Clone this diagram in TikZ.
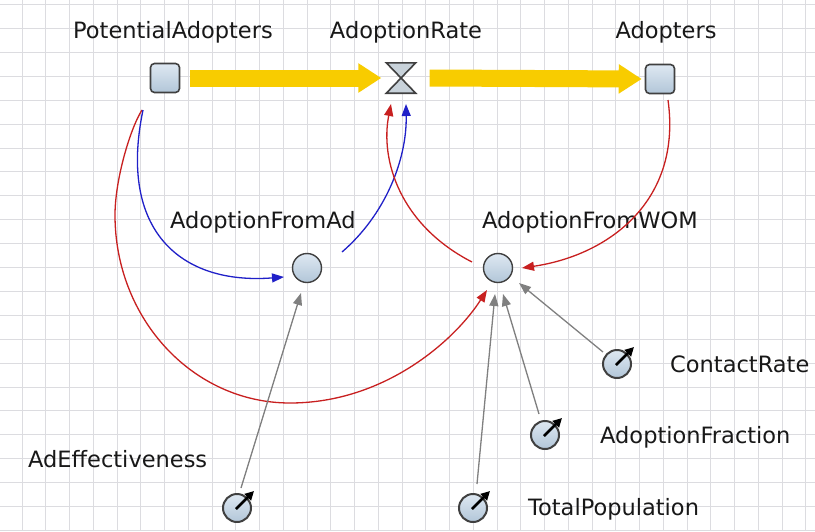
\documentclass[tikz,border=0pt]{standalone}
\usepackage{fontspec}
\setmainfont{DejaVu Sans}
\usetikzlibrary{arrows.meta,shapes.geometric}
\definecolor{gridc}{RGB}{220,220,224}
\definecolor{flowc}{RGB}{248,204,0}
\definecolor{redc}{RGB}{200,32,32}
\definecolor{bluec}{RGB}{32,32,200}
\definecolor{grayc}{RGB}{128,128,128}
\definecolor{edgec}{RGB}{64,64,64}
\definecolor{filltop}{RGB}{222,232,242}
\definecolor{fillbot}{RGB}{178,198,216}
\definecolor{txtc}{RGB}{24,24,24}
\definecolor{valvec}{RGB}{200,210,218}
\tikzset{
  lbl/.style={inner sep=0pt, font=\fontsize{22.5}{26}\selectfont, text=txtc},
  stockbox/.style={draw=edgec, line width=1.6pt, rounded corners=4pt, minimum size=29pt, inner sep=0pt, top color=filltop, bottom color=fillbot},
  auxnode/.style={circle, draw=edgec, line width=1.4pt, minimum size=29pt, inner sep=0pt, top color=filltop, bottom color=fillbot},
  parnode/.style={circle, draw=edgec, line width=2pt, minimum size=28pt, inner sep=0pt, top color=filltop, bottom color=fillbot},
  valvebox/.style={minimum width=29pt, minimum height=30pt, inner sep=0pt},
  valveshape/.style={draw=edgec, line width=1.6pt, fill=valvec, line join=miter},
  flowarrow/.style={draw=flowc, line width=17pt, -{Triangle[length=23pt,width=28pt]}},
  needle/.style={draw=black, line width=2.6pt, -{Triangle[length=9pt,width=9pt]}},
  redlink/.style={draw=redc, line width=1.3pt, -{Triangle[length=12pt,width=9pt]}},
  bluelink/.style={draw=bluec, line width=1.3pt, -{Triangle[length=12pt,width=9pt]}},
  graylink/.style={draw=grayc, line width=1.3pt, -{Triangle[length=12pt,width=9pt]}}
}
\begin{document}
\begin{tikzpicture}[x=1pt,y=-1pt]
\useasboundingbox (0,0) rectangle (815,531);
\fill[white] (0,0) rectangle (815,531);
% grid
\foreach \k in {-1,...,33} { \draw[gridc, line width=0.9pt] ({22+23.75*\k},0) -- ({22+23.75*\k},531); }
\foreach \k in {0,...,22} { \draw[gridc, line width=0.9pt] (0,{4.6+23.9*\k}) -- (815,{4.6+23.9*\k}); }

% stocks and valve
\node[stockbox] (pa) at (165,78) {};
\node[stockbox] (ad) at (660,79) {};
\node[valvebox] (ar) at (401,78) {};
\path[valveshape] (ar.north west) -- (ar.north east) -- (ar.center) -- cycle;
\path[valveshape] (ar.south west) -- (ar.south east) -- (ar.center) -- cycle;

% flows
\draw[flowarrow] ([xshift=10pt]pa.east) -- ([xshift=-5pt]ar.west);
\draw[flowarrow] ([xshift=14pt]ar.east) -- ([xshift=-3pt]ad.west);

% auxiliaries
\node[auxnode] (afa) at (307,268) {};
\node[auxnode] (wom) at (498,268) {};

% parameters
\node[parnode] (cr) at (617,364) {};
\node[parnode] (af) at (545,435) {};
\node[parnode] (tp) at (473,508) {};
\node[parnode] (ae) at (237,508) {};
\foreach \p in {cr,af,tp,ae} { \draw[needle] ([shift={(-1,1)}]\p.center) -- ([shift={(17,-17)}]\p.center); }

% labels
\node[lbl, anchor=base west] (lpa) at (73,38) {PotentialAdopters};
\node[lbl, anchor=base] (lar) at (406,38) {AdoptionRate};
\node[lbl, anchor=base] (lad) at (666,38) {Adopters};
\node[lbl, anchor=base west] (lafa) at (170,228) {AdoptionFromAd};
\node[lbl, anchor=base west] (lwom) at (482,228) {AdoptionFromWOM};
\node[lbl, anchor=base west] (lcr) at (670,372) {ContactRate};
\node[lbl, anchor=base west] (laf) at (600,443) {AdoptionFraction};
\node[lbl, anchor=base west] (ltp) at (528,515) {TotalPopulation};
\node[lbl, anchor=base west] (lae) at (28,467) {AdEffectiveness};

% links
\draw[redlink] ([shift={(-23,32)}]pa.center) .. controls (130,129) and (115,180) .. (115,215)
   .. controls (115,319) and (193,403) .. (290,403)
   .. controls (385,403) and (455,340) .. ([shift={(-11,22)}]wom.center);
\draw[bluelink] ([shift={(-22,32)}]pa.center) .. controls (118,230) and (180,285) .. ([shift={(-23,9)}]afa.center);
\draw[bluelink] ([shift={(35,-16)}]afa.center) .. controls (385,215) and (407,160) .. ([shift={(5,26)}]ar.center);
\draw[redlink] ([shift={(-26,-6)}]wom.center) .. controls (400,225) and (380,160) .. ([shift={(-10,26)}]ar.center);
\draw[redlink] ([shift={(8,21)}]ad.center) .. controls (682,200) and (610,255) .. ([shift={(24,0)}]wom.center);

\draw[graylink] ([shift={(4,-20)}]ae.center) -- ([shift={(-6,25)}]afa.center);
\draw[graylink] ([shift={(4,-24)}]tp.center) -- ([shift={(-3,26)}]wom.center);
\draw[graylink] ([shift={(-6,-21)}]af.center) -- ([shift={(5,26)}]wom.center);
\draw[graylink] ([shift={(-14,-12)}]cr.center) -- ([shift={(21,15)}]wom.center);
\end{tikzpicture}
\end{document}
